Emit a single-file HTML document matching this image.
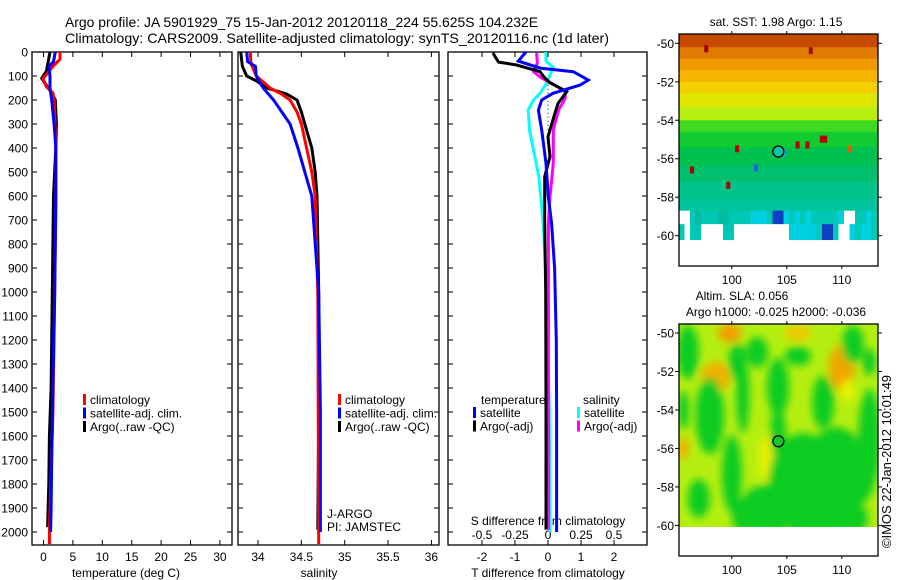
<!DOCTYPE html>
<html><head><meta charset="utf-8">
<style>
body{margin:0;background:#fff;}
svg{display:block;font-family:"Liberation Sans",Arial,sans-serif;}
text{fill:#000;}
</style></head>
<body>
<svg id="fig" width="900" height="580" viewBox="0 0 900 580">
<defs>
<filter id="blur" x="-50%" y="-50%" width="200%" height="200%"><feGaussianBlur stdDeviation="4"/></filter>
<clipPath id="clipTop"><rect x="679" y="34" width="199" height="232"/></clipPath>
<clipPath id="clipBot"><rect x="679" y="324" width="199" height="203"/></clipPath>
</defs>
<text x="65" y="27" font-size="14" textLength="473" lengthAdjust="spacingAndGlyphs">Argo profile: JA 5901929_75 15-Jan-2012 20120118_224 55.625S 104.232E</text>
<text x="65" y="43" font-size="14" textLength="544" lengthAdjust="spacingAndGlyphs">Climatology: CARS2009. Satellite-adjusted climatology: synTS_20120116.nc (1d later)</text>
<g id="g1"></g>
<g id="g2"></g>
<g id="g3"></g>
<g id="m1"></g>
<g id="m2"></g>
<text transform="translate(891,548) rotate(-90)" font-size="13" textLength="173" lengthAdjust="spacingAndGlyphs">©IMOS 22-Jan-2012 10:01:49</text>
</svg>
<script>
// ---------- data ----------
const depthTicks = [0,100,200,300,400,500,600,700,800,900,1000,1100,1200,1300,1400,1500,1600,1700,1800,1900,2000];
// Panel 1 temperature
const climTDepth = [0,30,60,100,110,145,170,200,385,664,1000,1500,2000,2050];
const climT = [2.8,2.8,1.6,0.3,-0.1,0.5,1.6,1.8,2.1,2.1,1.9,1.6,1.0,1.0];
const satTDepth = [0,40,60,100,150,200,300,400,600,1000,1400,1700,1900,2000];
const satT = [2.0,1.7,0.9,1.1,1.1,1.4,1.8,2.1,2.1,1.9,1.6,1.4,1.3,1.2];
const argoTDepth = [0,40,80,110,150,175,200,300,400,600,1000,1400,1600,1800,1980];
const argoT = [1.1,0.8,0.5,-0.3,0.8,1.5,2.0,2.2,2.1,1.7,1.5,1.3,1.0,0.9,0.7];
const tempTicks = [0,5,10,15,20,25,30];
// Panel 2 salinity
const climSDepth = [0,50,100,150,175,200,250,300,400,500,600,1000,2050];
const climS = [33.91,33.92,33.98,34.14,34.27,34.37,34.45,34.50,34.56,34.62,34.66,34.69,34.70];
const satSDepth = [0,40,60,100,150,200,300,400,500,600,1000,1500,2000];
const satS = [33.87,33.88,33.97,33.98,34.06,34.18,34.37,34.46,34.54,34.62,34.70,34.72,34.72];
const argoSDepth = [0,60,100,120,150,175,200,250,300,400,500,600,1000,1500,1990];
const argoS = [33.80,33.82,33.87,33.98,34.10,34.33,34.45,34.50,34.54,34.62,34.66,34.68,34.70,34.70,34.69];
const salTicks = [34,34.5,35,35.5,36];
// Panel 3 differences
const dTsatDepth = [0,38,67,82,117,138,172,200,242,325,464,603,714,900,1200,1500,2000];
const dTsat = [-0.67,-0.9,-0.24,0.77,1.22,0.97,0.15,-0.19,-0.29,-0.19,-0.06,0.01,0.11,0.2,0.25,0.26,0.26];
const dTargoDepth = [4,42,54,82,108,128,165,213,255,325,353,436,519,603,714,1000,1500,1990];
const dTargo = [-1.67,-1.5,-0.95,-0.24,-0.1,0.06,0.57,0.31,0.21,0.06,0.0,0.06,-0.1,-0.1,-0.1,-0.07,-0.06,-0.06];
const dSsatDepth = [0,38,65,95,128,172,200,242,325,436,519,631,728,1000,1500,2000];
const dSsat = [-0.015,-0.015,0.04,0.015,-0.008,-0.06,-0.11,-0.15,-0.14,-0.10,-0.07,-0.05,-0.035,-0.01,0.01,0.015];
const dSargoDepth = [4,46,82,108,138,165,193,242,325,464,603,714,1000,1500,1990];
const dSargo = [-0.086,-0.08,-0.11,-0.05,0.05,0.13,0.13,0.08,0.04,0.04,0.015,0.003,0.003,0.003,0.003];
const dTTicks = [-2,-1,0,1,2];
const dSTicks = [-0.5,-0.25,0,0.25,0.5];
const dSTickLabels = ["-0.5","-0.25","0","0.25","0.5"];
// Maps
const lonTicks = [100,105,110];
const latTicks = [-50,-52,-54,-56,-58,-60];
const argoLon = 104.232, argoLat = -55.625;
const sstBandTop = [-49.5,-50.2,-50.8,-51.4,-52.0,-52.6,-53.3,-54.0,-54.6,-55.4,-56.4,-57.2,-58.1];
const sstBandBot = [-50.2,-50.8,-51.4,-52.0,-52.6,-53.3,-54.0,-54.6,-55.4,-56.4,-57.2,-58.1,-58.7];
const sstBandColor = ["#c84a00","#e07a00","#f09a00","#f6b400","#f4d000","#dfe600","#b8ee10","#40d820","#10cc30","#00c050","#00c070","#00c48c","#00c49c"];
const sstSpeckLon = [97.5,99.5,108,108.3,106.7,105.8,96.2,110.5,102,104.5,100.3,107];
const sstSpeckLat = [-50.1,-57.2,-54.8,-54.8,-55.1,-55.1,-56.4,-55.3,-56.3,-55.5,-55.3,-50.2];
const sstSpeckColor = ["#a00000","#b00000","#b00000","#b00000","#b00000","#b00000","#b00000","#e06000","#2060e0","#30a0f0","#c00000","#a01000"];
const sstLowRow1 = "WWT.TTT..TTTTCCCTBBCTCTCTTTTTCWWTTCTT";
const sstLowRow2 = "TWTTWWWWTTWWWWWWWWWWCCCCCTBBTWWCTCCTT";
const slaBlobLon = [96,100.5,102.3,104.2,101,98,100,106.5,109.5,112.5,108.3,111,104.2,97,103,110,95.6,106,112.5,107,111,101.5];
const slaBlobLat = [-51,-51.5,-51,-52.8,-53.2,-54.3,-57.3,-57.8,-57.2,-55.5,-53.6,-50.6,-55.2,-58.6,-59.3,-59.6,-54,-51.2,-51.5,-59,-57.5,-59.5];
const slaBlobRx = [1,0.8,1,1,0.6,1.3,0.9,3.2,2.8,1.0,1,1,0.7,1,2.3,2.4,0.5,1.2,0.6,3,2,1.5];
const slaBlobRy = [1.4,1,0.8,1.5,2,2,2,2.6,2.3,2.6,1.4,1,1.4,1,1.4,1,1,0.5,0.7,1.5,1.5,1];
const slaHotLon = [99.8,110,98.5,95.6,106,103.2,110.5];
const slaHotLat = [-50,-51.8,-52.3,-56,-50,-56.5,-53];
const slaHotRx = [1.1,1.2,1.3,0.5,1.2,0.8,0.6];
const slaHotRy = [0.5,1.2,0.8,0.6,0.4,1.2,0.6];
const slaHotColor = ["#f0a000","#f0a800","#f0b000","#f0b000","#f0c800","#e8f000","#e8f000"];

// ---------- helpers ----------
const NS="http://www.w3.org/2000/svg";
function mk(parent,tag,attrs,txt){const e=document.createElementNS(NS,tag);for(const k in attrs)e.setAttribute(k,attrs[k]);if(txt!==undefined)e.textContent=txt;parent.appendChild(e);return e;}
const Y0=52, PX100=24, YBOT=545;
const yD = d => Y0 + d*PX100/100;

function frame(g,x0,x1){
  const r=mk(g,'rect',{x:x0,y:Y0,width:x1-x0,height:YBOT-Y0,fill:'none',stroke:'#000','stroke-width':1.3});
  
  
  depthTicks.forEach(d=>{
    mk(g,'line',{x1:x0,x2:x0+5,y1:yD(d),y2:yD(d),stroke:'#000'});
    mk(g,'line',{x1:x1,x2:x1-5,y1:yD(d),y2:yD(d),stroke:'#000'});
  });
}
function series(g,xf,depths,vals,color,name){
  const pts=depths.map((d,i)=>xf(vals[i]).toFixed(1)+','+yD(d).toFixed(1)).join(' ');
  const p=mk(g,'polyline',{points:pts,fill:'none',stroke:color,'stroke-width':3,'stroke-linejoin':'miter'});
  
  
}
function xticks(g,xf,ticks,labels,yl){
  ticks.forEach((t,i)=>{
    const x=xf(t);
    mk(g,'line',{x1:x,x2:x,y1:YBOT,y2:YBOT-5,stroke:'#000'});
    mk(g,'line',{x1:x,x2:x,y1:Y0,y2:Y0+5,stroke:'#000'});
    const tx=mk(g,'text',{x:x,y:yl,'font-size':12,'text-anchor':'middle'},labels?labels[i]:String(t));
    
    
  });
}
function legend(g,x,y0,items){
  items.forEach((it,i)=>{
    const y=y0+i*13.5;
    mk(g,'rect',{x:x,y:y-10,width:3,height:11,fill:it[0]});
    const t=mk(g,'text',{x:x+7,y:y,'font-size':12},it[1]);
    
    
  });
}

// ---------- panel 1 ----------
(function(){
  const g=document.getElementById('g1');
  const xf=v=>43.5+v*5.88;
  frame(g,32,232);
  depthTicks.forEach(d=>{const t=mk(g,'text',{x:28,y:yD(d)+4.5,'font-size':12,'text-anchor':'end'},String(d));
    });
  xticks(g,xf,tempTicks,null,561);
  const xl=mk(g,'text',{x:126,y:577,'font-size':12,'text-anchor':'middle'},'temperature (deg C)');
  
  series(g,xf,argoTDepth,argoT,'#000','argo-temperature-line');
  series(g,xf,climTDepth,climT,'#f00','climatology-temperature-line');
  series(g,xf,satTDepth,satT,'#00f','satellite-temperature-line');
  legend(g,83,404,[['#f00','climatology'],['#00f','satellite-adj. clim.'],['#000','Argo(..raw -QC)']]);
})();
// ---------- panel 2 ----------
(function(){
  const g=document.getElementById('g2');
  const xf=v=>258+(v-34)*86.7;
  frame(g,238,439);
  xticks(g,xf,salTicks,null,561);
  const xl=mk(g,'text',{x:319,y:577,'font-size':12,'text-anchor':'middle'},'salinity');
  
  series(g,xf,argoSDepth,argoS,'#000','argo-salinity-line');
  series(g,xf,climSDepth,climS,'#f00','climatology-salinity-line');
  series(g,xf,satSDepth,satS,'#00f','satellite-salinity-line');
  legend(g,338,404,[['#f00','climatology'],['#00f','satellite-adj. clim.'],['#000','Argo(..raw -QC)']]);
  const a=mk(g,'text',{x:327,y:518,'font-size':12},'J-ARGO');
  const b=mk(g,'text',{x:327,y:531,'font-size':12},'PI: JAMSTEC');
})();
// ---------- panel 3 ----------
(function(){
  const g=document.getElementById('g3');
  const xT=v=>548+v*33, xS=v=>548+v*132;
  frame(g,448,647);
  xticks(g,xT,dTTicks,null,561);
  dSTicks.forEach((t,i)=>{const tx=mk(g,'text',{x:xS(t),y:539,'font-size':12,'text-anchor':'middle'},dSTickLabels[i]);
    });
  const st=mk(g,'text',{x:548,y:525,'font-size':12,'text-anchor':'middle'},'S difference from climatology');
  
  const xl=mk(g,'text',{x:548,y:577,'font-size':12,'text-anchor':'middle'},'T difference from climatology');
  
  mk(g,'line',{x1:xT(0),x2:xT(0),y1:yD(120),y2:yD(420),stroke:'#000','stroke-dasharray':'1,3'});
  series(g,xS,dSsatDepth,dSsat,'#00ffff','salinity-satellite-diff-line');
  series(g,xS,dSargoDepth,dSargo,'#ff00ff','salinity-argo-diff-line');
  series(g,xT,dTargoDepth,dTargo,'#000','temperature-argo-diff-line');
  series(g,xT,dTsatDepth,dTsat,'#0000ff','temperature-satellite-diff-line');
  const t1=mk(g,'text',{x:481,y:404,'font-size':12},'temperature');
  const t2=mk(g,'text',{x:583,y:404,'font-size':12},'salinity');
  legend(g,473,417,[['#00f','satellite'],['#000','Argo(-adj)']]);
  legend(g,577,417,[['#00ffff','satellite'],['#ff00ff','Argo(-adj)']]);
})();
// ---------- maps ----------
const MX0=679, MX1=878, LON0=95.2, PXLON=11.0, PXLAT=19.24;
const mx=l=>MX0+(l-LON0)*PXLON;
function mapAxes(g,top,lat50y,bottom){
  const my=l=>lat50y+(-50-l)*PXLAT;
  const f=mk(g,'rect',{x:MX0,y:top,width:MX1-MX0,height:bottom-top,fill:'none',stroke:'#000','stroke-width':1.3});
  
  latTicks.forEach(l=>{
    mk(g,'line',{x1:MX0,x2:MX0-4,y1:my(l),y2:my(l),stroke:'#000'});
    mk(g,'line',{x1:MX1,x2:MX1+4,y1:my(l),y2:my(l),stroke:'#000'});
    const t=mk(g,'text',{x:674,y:my(l)+4.5,'font-size':12,'text-anchor':'end'},String(l));
    
  });
  lonTicks.forEach(l=>{
    mk(g,'line',{x1:mx(l),x2:mx(l),y1:top,y2:top-3,stroke:'#000'});
    mk(g,'line',{x1:mx(l),x2:mx(l),y1:bottom,y2:bottom+3,stroke:'#000'});
    const t=mk(g,'text',{x:mx(l),y:bottom+18,'font-size':12,'text-anchor':'middle'},String(l));
    
  });
  const c=mk(g,'circle',{cx:mx(argoLon),cy:my(argoLat),r:5.5,fill:'none',stroke:'#000','stroke-width':1.3});
  
  return my;
}
(function(){
  const g=document.getElementById('m1');
  const my=l=>43.3+(-50-l)*PXLAT;
  const d=mk(g,'g',{'clip-path':'url(#clipTop)'});
  sstBandTop.forEach((t,i)=>{
    const r=mk(d,'rect',{x:MX0,y:my(t),width:MX1-MX0,height:my(sstBandBot[i])-my(t)+0.5,fill:sstBandColor[i]});
    
  });
  const cm={T:'#00c8b4',C:'#00d0e0',B:'#1040c0','.':'#00bca0',W:'#ffffff'};
  [[sstLowRow1,-58.7,-59.4],[sstLowRow2,-59.4,-60.2]].forEach(([row,a,b])=>{
    for(let i=0;i<row.length;i++){
      const r=mk(d,'rect',{x:mx(LON0+i*0.5),y:my(a),width:PXLON*0.5+0.5,height:my(b)-my(a)+0.5,fill:cm[row[i]]});
      
    }
  });
  sstSpeckLon.forEach((l,i)=>{
    const r=mk(d,'rect',{x:mx(l),y:my(sstSpeckLat[i]),width:4,height:7,fill:sstSpeckColor[i]});
    
  });
  mk(d,'circle',{cx:mx(argoLon),cy:my(argoLat),r:5,fill:'#00c8a8'});
  const t=mk(g,'text',{x:776,y:26,'font-size':12,'text-anchor':'middle'},'sat. SST: 1.98 Argo: 1.15');
  
  mapAxes(g,34,43.3,266);
})();
(function(){
  const g=document.getElementById('m2');
  const my=l=>333+(-50-l)*PXLAT;
  const d=mk(g,'g',{'clip-path':'url(#clipBot)'});
  const bg=mk(d,'rect',{x:MX0,y:324,width:MX1-MX0,height:203,fill:'#b4ee10'});
  
  const bl=mk(d,'g',{filter:'url(#blur)'});
  slaHotLon.forEach((l,i)=>{
    const e=mk(bl,'ellipse',{cx:mx(l),cy:my(slaHotLat[i]),rx:slaHotRx[i]*PXLON,ry:slaHotRy[i]*PXLAT,fill:slaHotColor[i]});
    
  });
  slaBlobLon.forEach((l,i)=>{
    const e=mk(bl,'ellipse',{cx:mx(l),cy:my(slaBlobLat[i]),rx:slaBlobRx[i]*PXLON,ry:slaBlobRy[i]*PXLAT,fill:'#10cc20'});
    
  });
  mk(d,'circle',{cx:mx(argoLon),cy:my(argoLat),r:5,fill:'#10c830'});
  const t1=mk(g,'text',{x:742,y:300,'font-size':12,'text-anchor':'middle'},'Altim. SLA: 0.056');
  
  const t2=mk(g,'text',{x:776,y:316,'font-size':12,'text-anchor':'middle'},'Argo h1000: -0.025 h2000: -0.036');
  
  mapAxes(g,324,333,556);
})();
</script>
</body></html>
